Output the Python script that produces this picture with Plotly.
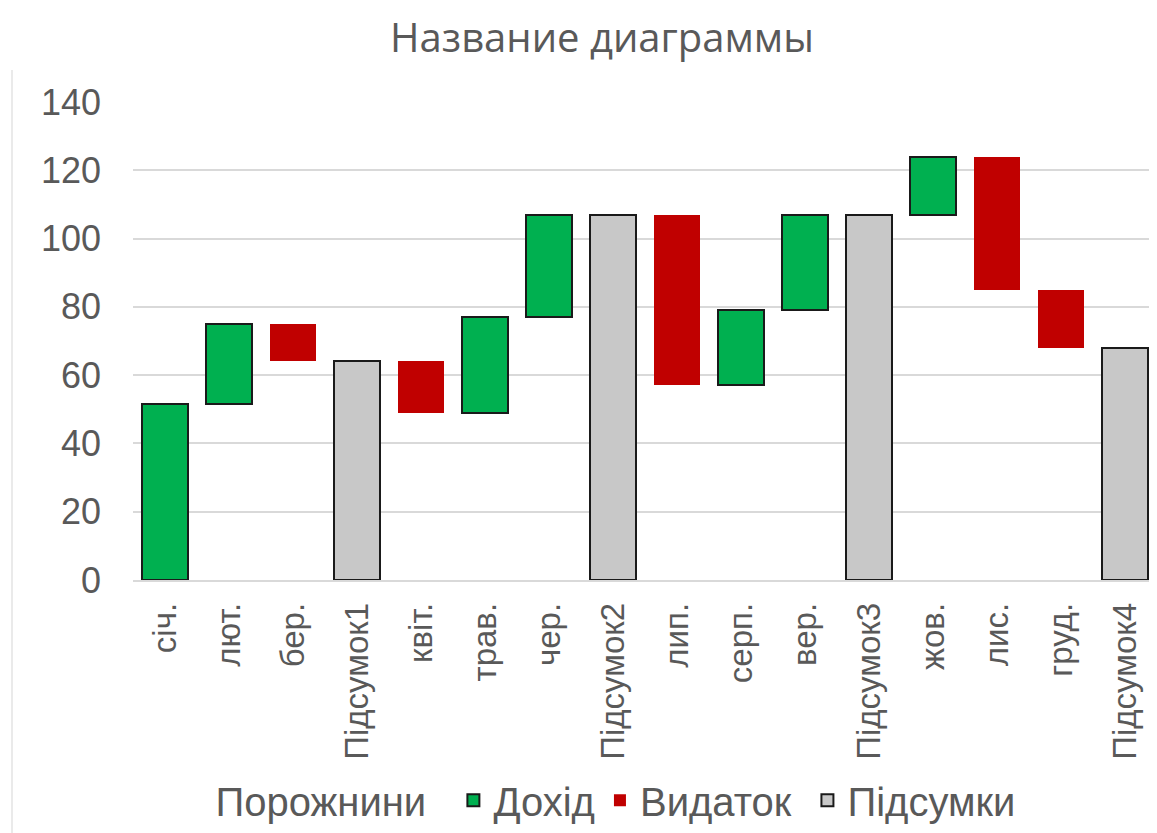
import plotly.graph_objects as go

categories = ["січ.", "лют.", "бер.", "Підсумок1", "квіт.", "трав.", "чер.", "Підсумок2",
              "лип.", "серп.", "вер.", "Підсумок3", "жов.", "лис.", "груд.", "Підсумок4"]
gaps = [None, 51.5, 64, None, 49, 49, 77, None, 57, 57, 79, None, 107, 85, 68, None]
income = [51.5, 23.5, None, None, None, 28, 30, None, None, 22, 28, None, 17, None, None, None]
expense = [None, None, 11, None, 15, None, None, None, 50, None, None, None, None, 39, 17, None]
totals = [None, None, None, 64, None, None, None, 107, None, None, None, 107, None, None, None, 68]
y_ticks = [0, 20, 40, 60, 80, 100, 120, 140]

FONT = "Liberation Sans, Arial, sans-serif"
GRAY_TXT = "#595959"
W, H = 1157, 833
ML, MT, PH = 125, 94, 478
NB = "\u00a0"

fig = go.Figure()
fig.add_trace(go.Bar(name="Порожнини" + NB * 2, x=categories, y=gaps,
                     marker=dict(color="rgba(0,0,0,0)", line=dict(width=0)),
                     hoverinfo="skip"))
fig.add_trace(go.Bar(name="Дохід", x=categories, y=income,
                     marker=dict(color="#00B050", line=dict(color="#1a1a1a", width=2))))
fig.add_trace(go.Bar(name="Видаток" + NB, x=categories, y=expense,
                     marker=dict(color="#C00000", line=dict(width=0))))
fig.add_trace(go.Bar(name="Підсумки", x=categories, y=totals,
                     marker=dict(color="#C8C8C8", line=dict(color="#1a1a1a", width=2))))

fig.update_layout(
    width=W, height=H,
    barmode="stack", bargap=0.27,
    paper_bgcolor="white", plot_bgcolor="white",
    margin=dict(l=ML, r=8, t=MT, b=H - MT - PH, autoexpand=False),
    font=dict(family=FONT, color=GRAY_TXT, size=32),
    title=dict(text="Название диаграммы", x=594 / W, xref="container", xanchor="center",
               y=1 - 30 / H, yref="container", yanchor="middle",
               font=dict(size=40, color=GRAY_TXT, family="Open Sans, sans-serif")),
    legend=dict(orientation="h", x=590 / W, xref="container", xanchor="center",
                y=0.01, yref="container", yanchor="bottom",
                font=dict(size=40, color=GRAY_TXT), itemwidth=30,
                traceorder="normal"),
    xaxis=dict(tickangle=-90, showgrid=False, showline=True, linecolor="#D9D9D9", linewidth=1.5,
               ticks="", tickfont=dict(size=33, color=GRAY_TXT), ticklabelstandoff=8,
               automargin=False),
    yaxis=dict(range=[0, 140], tickvals=y_ticks, showgrid=True, gridcolor="#D9D9D9", gridwidth=1.5,
               zeroline=False, showline=False, ticks="",
               tickfont=dict(size=36, color=GRAY_TXT), ticklabelstandoff=31,
               automargin=False),
)

fig.add_shape(type="line", xref="paper", yref="paper",
              x0=(4 - ML) / 1024, x1=(4 - ML) / 1024,
              y0=-(H - MT - PH) / PH, y1=(PH + MT - 62) / PH,
              line=dict(color="#E3E3E3", width=1.5))

fig.write_html("out.html")
